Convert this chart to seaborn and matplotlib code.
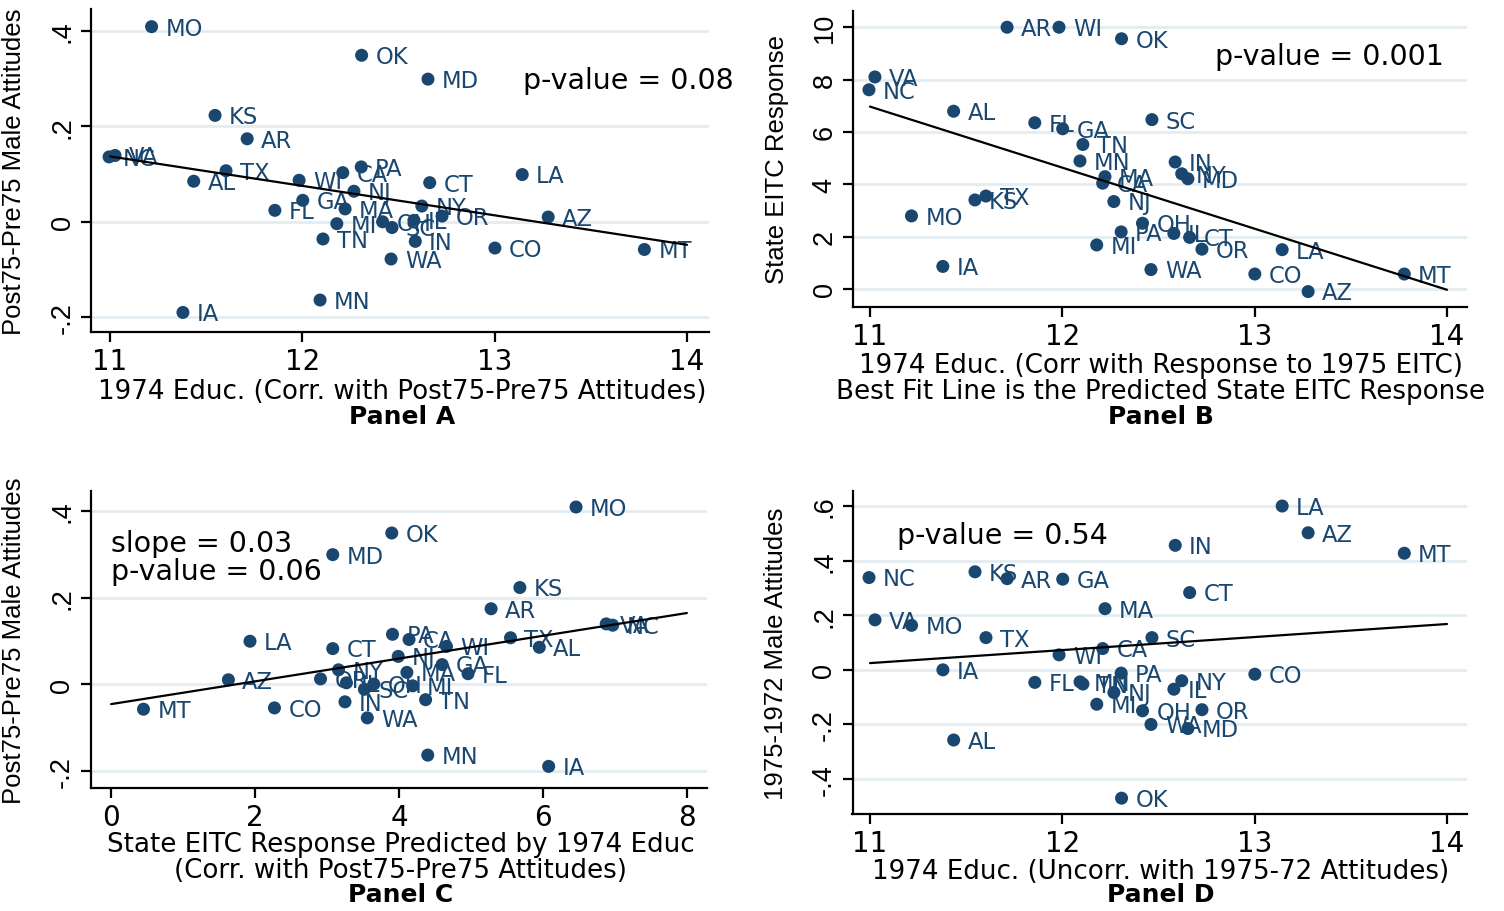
import numpy as np
import pandas as pd
import matplotlib
matplotlib.use("Agg")
import matplotlib.pyplot as plt
import seaborn as sns

# ---------------- data ----------------
states = ["MO", "OK", "MD", "KS", "AR", "NC", "VA", "TX", "AL", "WI", "CA",
          "PA", "NJ", "GA", "FL", "MA", "MI", "OH", "SC", "IL", "NY", "OR",
          "CT", "LA", "AZ", "TN", "IN", "WA", "CO", "MT", "MN", "IA"]

educ_1974 = [11.216, 12.308, 12.653, 11.546, 11.713, 10.995, 11.026, 11.603,
             11.435, 11.983, 12.210, 12.306, 12.268, 12.002, 11.857, 12.222,
             12.179, 12.417, 12.466, 12.580, 12.621, 12.726, 12.662, 13.143,
             13.278, 12.107, 12.587, 12.461, 13.001, 13.778, 12.092, 11.379]

att_post_pre75 = [0.409, 0.349, 0.299, 0.223, 0.174, 0.136, 0.139, 0.107,
                  0.085, 0.087, 0.103, 0.115, 0.064, 0.045, 0.024, 0.027,
                  -0.004, 0.000, -0.012, 0.003, 0.033, 0.012, 0.082, 0.099,
                  0.010, -0.036, -0.041, -0.078, -0.055, -0.058, -0.164, -0.190]

eitc_response = [2.79, 9.56, 4.21, 3.40, 10.00, 7.61, 8.10, 3.55, 6.79, 10.00,
                 4.04, 2.18, 3.34, 6.12, 6.35, 4.29, 1.68, 2.51, 6.47, 2.12,
                 4.40, 1.52, 1.97, 1.50, -0.10, 5.52, 4.85, 0.74, 0.57, 0.57,
                 4.89, 0.86]

eitc_predicted = [6.46, 3.90, 3.08, 5.68, 5.28, 6.97, 6.88, 5.55, 5.95, 4.66,
                  4.14, 3.91, 3.99, 4.60, 4.96, 4.11, 4.19, 3.65, 3.52, 3.27,
                  3.16, 2.91, 3.08, 1.93, 1.63, 4.37, 3.25, 3.56, 2.27, 0.45,
                  4.40, 6.08]

att_75_72 = [0.163, -0.470, -0.215, 0.359, 0.334, 0.338, 0.183, 0.118, -0.257,
             0.055, 0.078, -0.012, -0.083, 0.332, -0.046, 0.224, -0.126, -0.150,
             0.118, -0.071, -0.040, -0.146, 0.283, 0.600, 0.502, -0.052, 0.456,
             -0.200, -0.016, 0.427, -0.044, 0.000]

df = pd.DataFrame({"state": states, "educ": educ_1974, "att": att_post_pre75,
                   "eitc": eitc_response, "pred": eitc_predicted,
                   "att7572": att_75_72})

# ---------------- style ----------------
sns.set_theme(style="white")
plt.rcParams["font.family"] = ["DejaVu Sans"]
ROT_FONT = ["Liberation Sans", "DejaVu Sans"]

NAVY = "#1a476f"
GRID = "#e3ecf0"
W, H = 1504, 912

fig = plt.figure(figsize=(W / 100, H / 100), dpi=100)


def px_axes(l, t, r, b):
    return fig.add_axes([l / W, 1 - b / H, (r - l) / W, (b - t) / H])


def panel(ax, xcol, ycol, xlim, ylim, xticks, xtlabels, yticks, ytlabels,
          ylabel, xlabel, xlabel_cy, panel_name, panel_cy, xlabel_cx):
    sns.scatterplot(data=df, x=xcol, y=ycol, ax=ax, color=NAVY, s=88,
                    edgecolor="none", legend=False, zorder=3)
    for s, xv, yv in zip(df["state"], df[xcol], df[ycol]):
        ax.annotate(s, (xv, yv), xytext=(10, -1), textcoords="offset points",
                    ha="left", va="center", fontsize=16.3, color=NAVY,
                    zorder=4)
    # least squares fit line across the labelled x range
    b1, b0 = np.polyfit(df[xcol], df[ycol], 1)
    xl = np.array([xticks[0], xticks[-1]], dtype=float)
    sns.lineplot(x=xl, y=b0 + b1 * xl, ax=ax, color="black", lw=1.6,
                 zorder=5)
    ax.set_xlim(*xlim)
    ax.set_ylim(*ylim)
    ax.set_xticks(xticks)
    ax.set_xticklabels(xtlabels, fontsize=20)
    ax.set_yticks(yticks)
    ax.set_yticklabels(ytlabels, rotation=90, va="center", fontsize=19.5,
                       family=ROT_FONT)
    for yt in yticks:
        ax.axhline(yt, color=GRID, lw=2, zorder=0)
    for sp in ["top", "right"]:
        ax.spines[sp].set_visible(False)
    for sp in ["left", "bottom"]:
        ax.spines[sp].set_color("black")
        ax.spines[sp].set_linewidth(1.6)
    ax.tick_params(axis="both", which="major", direction="out", length=7,
                   width=1.6, color="black", labelcolor="black",
                   left=True, bottom=True, pad=4)
    ax.tick_params(axis="x", pad=4)
    ax.set_ylabel(ylabel, fontsize=18.5, color="black", family=ROT_FONT)
    ax.yaxis.set_label_coords(-0.105, 0.5)
    ax.set_xlabel("")
    fig.text(xlabel_cx / W, 1 - xlabel_cy / H, xlabel, ha="center",
             va="center", fontsize=18.8, color="black", linespacing=1.0)
    fig.text(xlabel_cx / W, 1 - panel_cy / H, panel_name, ha="center",
             va="center", fontsize=18, fontweight="bold", color="black")


# Panel A
axA = px_axes(91, 10, 709, 333)
panel(axA, "educ", "att", (10.901, 14.114), (-0.231, 0.446),
      [11, 12, 13, 14], ["11", "12", "13", "14"],
      [-0.2, 0, 0.2, 0.4], ["-.2", "0", ".2", ".4"],
      "Post75-Pre75 Male Attitudes",
      "1974 Educ. (Corr. with Post75-Pre75 Attitudes)", 392, "Panel A", 417,
      402)
axA.text(13.148, 0.297, "p-value = 0.08", fontsize=20.5, ha="left",
         va="center", color="black")

# Panel B
axB = px_axes(853, 12, 1467, 308)
panel(axB, "educ", "eitc", (10.912, 14.104), (-0.69, 10.62),
      [11, 12, 13, 14], ["11", "12", "13", "14"],
      [0, 2, 4, 6, 8, 10], ["0", "2", "4", "6", "8", "10"],
      "State EITC Response",
      "1974 Educ. (Corr with Response to 1975 EITC)\n"
      "Best Fit Line is the Predicted State EITC Response", 379, "Panel B",
      417, 1161)
axB.text(12.794, 8.9, "p-value = 0.001", fontsize=20.5, ha="left",
         va="center", color="black")

# Panel C
axC = px_axes(90.5, 492, 707, 789)
panel(axC, "pred", "att", (-0.286, 8.28), (-0.240, 0.446),
      [0, 2, 4, 6, 8], ["0", "2", "4", "6", "8"],
      [-0.2, 0, 0.2, 0.4], ["-.2", "0", ".2", ".4"],
      "Post75-Pre75 Male Attitudes",
      "State EITC Response Predicted by 1974 Educ\n"
      "(Corr. with Post75-Pre75 Attitudes)", 858, "Panel C", 895, 401)
axC.text(0.0, 0.294, "slope = 0.03\np-value = 0.06", fontsize=20.5,
         ha="left", va="center", color="black", linespacing=0.98)

# Panel D
axD = px_axes(852.5, 492, 1467, 815)
panel(axD, "educ", "att7572", (10.909, 14.104), (-0.528, 0.655),
      [11, 12, 13, 14], ["11", "12", "13", "14"],
      [-0.4, -0.2, 0, 0.2, 0.4, 0.6], ["-.4", "-.2", "0", ".2", ".4", ".6"],
      "1975-1972 Male Attitudes",
      "1974 Educ. (Uncorr. with 1975-72 Attitudes)", 872, "Panel D", 895,
      1161)
axD.text(11.14, 0.493, "p-value = 0.54", fontsize=20.5, ha="left",
         va="center", color="black")

fig.savefig("out.png", dpi=100, facecolor="white")
